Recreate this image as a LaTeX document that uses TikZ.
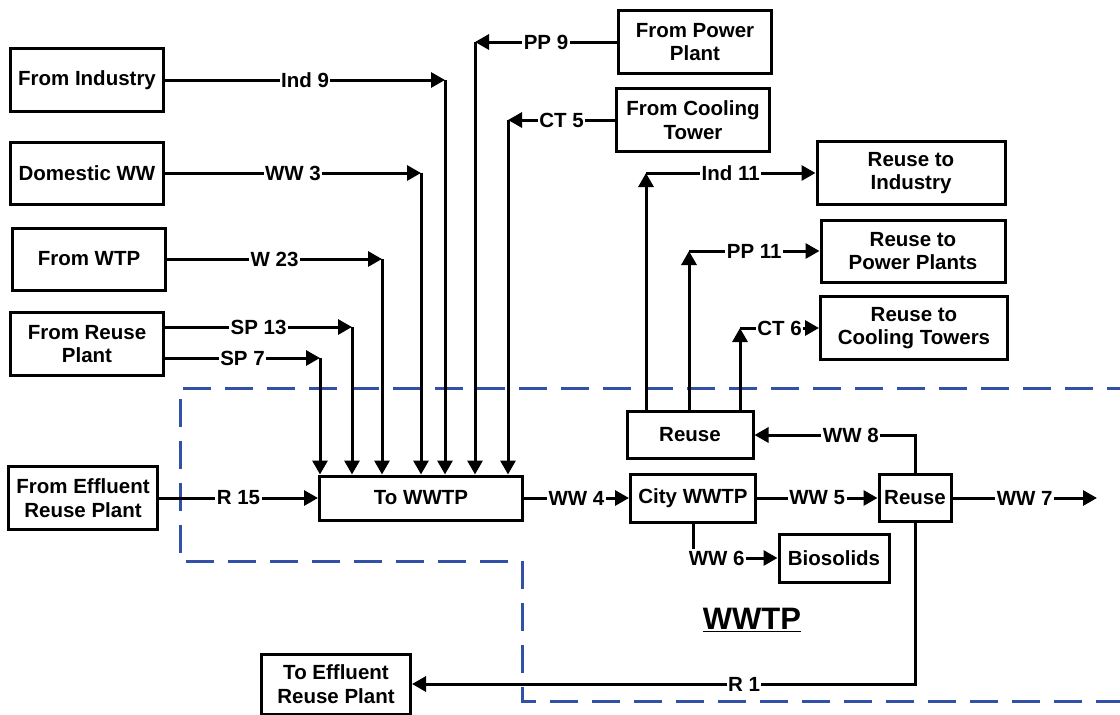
\documentclass[tikz,border=0pt]{standalone}
\usepackage{fontspec}
\setmainfont{Liberation Sans}
\usepackage{xcolor}
\usepackage{tikz}
\usetikzlibrary{positioning,calc}
\usetikzlibrary{arrows.meta,shapes}
\definecolor{wwblue}{RGB}{50,80,165}
\tikzstyle{block} = [rectangle,draw=black,line width=3pt,align=center,inner sep=2pt,font=\bfseries\fontsize{20.5}{23.5}\selectfont]
\tikzstyle{line} = [line width=3pt,-{Triangle[length=14pt,width=15pt]}]
\tikzstyle{lbl} = [fill=white,inner sep=1.5pt,font=\bfseries\fontsize{20.5}{23.5}\selectfont]
\tikzstyle{boundary} = [draw=wwblue,line width=3pt,dash pattern=on 28pt off 14pt]

\begin{document}
\begin{tikzpicture}[x=1pt,y=-1pt]
        \useasboundingbox (0,0) rectangle (1120,715);
        % plant boundary
        \draw[boundary] (1135,388) -- (180,388) -- (180,561) -- (522,561) -- (522,701) -- (1135,701);
        \node[font=\bfseries\fontsize{31}{36}\selectfont] (title) at (752,620) {\underline{WWTP}};

        % sources
        \node[block,minimum width=153,minimum height=63] (ind) at (87,80) {From Industry};
        \node[block,minimum width=153,minimum height=62] (dom) at (87,173) {Domestic WW};
        \node[block,minimum width=153,minimum height=62] (wtp) at (89,259) {From WTP};
        \node[block,minimum width=153,minimum height=63] (rsp) at (87,344) {From Reuse\\Plant};
        \node[block,minimum width=149,minimum height=63] (eff) at (83,498) {From Effluent\\Reuse Plant};
        \node[block,minimum width=153,minimum height=63] (fpp) at (695,42) {From Power\\Plant};
        \node[block,minimum width=153,minimum height=63] (fct) at (693,120) {From Cooling\\Tower};

        % treatment
        \node[block,minimum width=203,minimum height=44] (tw) at (421,498) {To WWTP};
        \node[block,minimum width=125,minimum height=48] (city) at (693,498) {City WWTP};
        \node[block,minimum width=126,minimum height=47] (rtop) at (690,435) {Reuse};
        \node[block,minimum width=72,minimum height=47] (rr) at (915,498) {Reuse};
        \node[block,minimum width=110,minimum height=48] (bio) at (834,558) {Biosolids};
        \node[block,minimum width=149,minimum height=60] (teff) at (336,684) {To Effluent\\Reuse Plant};

        % reuse sinks
        \node[block,minimum width=188,minimum height=63] (rind) at (911,173) {Reuse to\\Industry};
        \node[block,minimum width=184,minimum height=62] (rpp) at (913,251) {Reuse to\\Power Plants};
        \node[block,minimum width=187,minimum height=63] (rct) at (914,328) {Reuse to\\Cooling Towers};

        % corners
        \coordinate (c1) at (320,358);
        \coordinate (c2) at (352,327);
        \coordinate (c3) at (382,259);
        \coordinate (c4) at (421,173);
        \coordinate (c5) at (445,80);
        \coordinate (c6) at (475,42);
        \coordinate (c7) at (508,120);
        \coordinate (u1) at (646,173);
        \coordinate (u2) at (689,251);
        \coordinate (u3) at (740,328);
        \coordinate (out) at (1097,498);

        % inflows
        \draw[line] (ind.east) -- node[lbl]{Ind 9} (c5);
        \draw[line] (dom.east) -- node[lbl]{WW 3} (c4);
        \draw[line] (wtp.east) -- node[lbl]{W 23} (c3);
        \draw[line] (rsp.east |- c2) -- node[lbl]{SP 13} (c2);
        \draw[line] (rsp.east |- c1) -- node[lbl]{SP 7} (c1);
        \draw[line] (fpp.west) -- node[lbl]{PP 9} (c6);
        \draw[line] (fct.west) -- node[lbl]{CT 5} (c7);
        \foreach \c in {c1,c2,c3,c4,c5,c6,c7}
            \draw[line] (\c) -- (\c |- tw.north);
        \draw[line] (eff.east) -- node[lbl]{R 15} (tw.west);

        % through the plant
        \draw[line] (tw.east) -- node[lbl]{WW 4} (city.west);
        \draw[line] (city.east) -- node[lbl]{WW 5} (rr.west);
        \draw[line] (rr.east) -- node[lbl]{WW 7} (out);
        \draw[line] (city.south) |- node[lbl,pos=0.64]{WW 6} (bio.west);
        \draw[line] (rr.north) |- node[lbl,pos=0.7]{WW 8} (rtop.east);
        \draw[line] (rr.south) |- node[lbl,pos=0.67]{R 1} (teff.east);

        % reuse outflows
        \draw[line] (u1 |- rtop.north) -- (u1);
        \draw[line] (u1) -- node[lbl]{Ind 11} (rind.west);
        \draw[line] (u2 |- rtop.north) -- (u2);
        \draw[line] (u2) -- node[lbl]{PP 11} (rpp.west);
        \draw[line] (u3 |- rtop.north) -- (u3);
        \draw[line] (u3) -- node[lbl]{CT 6} (rct.west);
    \end{tikzpicture}
\end{document}
